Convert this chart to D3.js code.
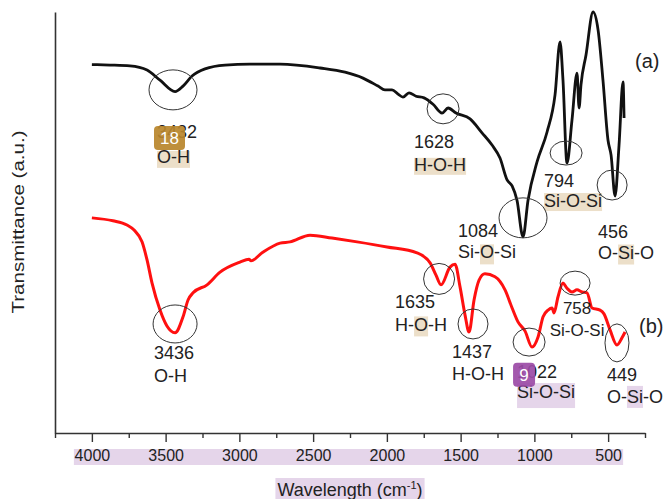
<!DOCTYPE html>
<html>
<head>
<meta charset="utf-8">
<script src="https://cdn.jsdelivr.net/npm/d3@7"></script>
<style>
  body { margin: 0; background: #fff; }
  text { font-family: "Liberation Sans", Arial, sans-serif; fill: #222; }
</style>
</head>
<body>
<svg id="chart" width="664" height="499"></svg>
<script>
// spectrum (a) - black
var wnA = [4000, 3877, 3742, 3626, 3538, 3436, 3382, 3321, 3233, 3097, 2928, 2724, 2453, 2284, 2162, 2060, 2013, 1965,
  1924, 1891, 1850, 1802, 1748, 1687, 1626, 1585, 1531, 1436, 1355, 1287, 1233, 1185, 1151, 1118, 1077, 1043, 982, 914,
  860, 826, 806, 779, 745, 711, 697, 684, 650, 602, 568, 535, 501, 480, 453, 426, 399, 392];
var tA = [87.5, 87.4, 87.2, 86.2, 83.8, 81.1, 82.4, 84.8, 86.5, 87.4, 87.6, 87.6, 86.7, 85.7, 84.3, 82.4, 81.5, 81.5,
  80.5, 79.8, 80.8, 80.0, 79.6, 78.1, 76.0, 77.2, 76.0, 74.6, 71.3, 68.4, 65.3, 60.1, 58.7, 55.3, 46.6, 55.3, 64.4, 71.5,
  80.3, 92.9, 83.8, 64.1, 74.3, 85.5, 77.2, 82.7, 89.8, 100, 95.7, 83.8, 69.6, 66.0, 56.3, 68.4, 83.4, 74.8];

// spectrum (b) - red
var wnB = [4000, 3857, 3762, 3714, 3660, 3626, 3592, 3538, 3491, 3436, 3382, 3348, 3314, 3219, 3131, 2996, 2935, 2921,
  2846, 2724, 2657, 2521, 2372, 2202, 1999, 1796, 1707, 1667, 1633, 1572, 1538, 1504, 1470, 1443, 1409, 1375, 1335, 1267,
  1199, 1151, 1111, 1063, 1016, 975, 941, 907, 880, 867, 840, 806, 779, 745, 711, 677, 643, 609, 555, 528, 487, 440, 406, 385];
var tB = [51.1, 50.4, 49.4, 48.2, 45.4, 41.1, 35.6, 29.2, 25.4, 23.8, 27.6, 31.6, 33.3, 35.2, 38.2, 40.6, 41.3, 40.9,
  42.8, 45.1, 45.4, 47.0, 46.3, 45.4, 44.2, 42.8, 40.4, 37.5, 35.2, 39.4, 40.1, 34.7, 28.0, 24.0, 31.6, 36.3, 37.8, 37.1,
  34.0, 29.7, 26.4, 24.2, 20.4, 22.8, 27.6, 29.2, 29.7, 28.5, 32.3, 35.6, 34.4, 33.5, 34.0, 33.5, 33.3, 29.7, 29.2, 28.3, 24.5, 20.9, 22.6, 24.0];

var peaksA = [3432, 1628, 1084, 794, 456];
var bondsA = ['O-H', 'H-O-H', 'Si-O-Si', 'Si-O-Si', 'O-Si-O'];
var peaksB = [3436, 1635, 1437, 1022, 758, 449];
var bondsB = ['O-H', 'H-O-H', 'H-O-H', 'Si-O-Si', 'Si-O-Si', 'O-Si-O'];

var xTicks = [4000, 3500, 3000, 2500, 2000, 1500, 1000, 500];
var xMinor = [4250, 3750, 3250, 2750, 2250, 1750, 1250, 750, 250];

var BEIGE = '#ecdfc9', LILAC = '#e5d5ea';

var svg = d3.select('#chart');
var x = d3.scaleLinear().domain([4250, 250]).range([55, 645]);
var y = d3.scaleLinear().domain([0, 100]).range([433, 12]);

var hlLayer = svg.append('g');
var plot = svg.append('g');
var ann = svg.append('g');
var badgeLayer = svg.append('g');

// axes
var gx = svg.append('g').attr('transform', 'translate(0,433)')
  .call(d3.axisBottom(x).tickValues(xTicks).tickSize(9).tickSizeOuter(0).tickPadding(8).tickFormat(d3.format('d')));
gx.select('.domain').attr('stroke', '#333').attr('stroke-width', 1.6);
gx.selectAll('.tick line').attr('stroke', '#333').attr('stroke-width', 1.4);
gx.selectAll('.tick text').attr('font-size', 16);

var gm = svg.append('g').attr('transform', 'translate(0,433)')
  .call(d3.axisBottom(x).tickValues(xMinor).tickSize(5).tickSizeOuter(0).tickFormat(''));
gm.select('.domain').remove();
gm.selectAll('.tick line').attr('stroke', '#333').attr('stroke-width', 1.4);

var gy = svg.append('g').attr('transform', 'translate(55,0)')
  .call(d3.axisLeft(y).tickValues([]).tickSizeOuter(0));
gy.select('.domain').attr('stroke', '#333').attr('stroke-width', 1.6);

// tick label band
hlLayer.append('rect')
  .attr('x', x(4000) - 18).attr('y', 449)
  .attr('width', x(500) + 15 - (x(4000) - 18)).attr('height', 16)
  .attr('fill', LILAC);

// axis titles
var xt = svg.append('text').attr('x', 350).attr('y', 496).attr('text-anchor', 'middle').attr('font-size', 18);
xt.append('tspan').text('Wavelength (cm');
xt.append('tspan').attr('dy', -7).attr('font-size', 11).text('-1');
xt.append('tspan').attr('dy', 7).text(')');
var xb = xt.node().getBBox();
hlLayer.append('rect').attr('x', xb.x - 2).attr('y', 478).attr('width', xb.width + 4).attr('height', 24).attr('fill', LILAC);

svg.append('text')
  .attr('transform', 'translate(24,222) rotate(-90)')
  .attr('text-anchor', 'middle').attr('font-size', 17)
  .attr('textLength', 183).attr('lengthAdjust', 'spacingAndGlyphs')
  .text('Transmittance (a.u.)');

// curves
var line = d3.line().x(d => x(d[0])).y(d => y(d[1])).curve(d3.curveMonotoneX);
plot.append('path').datum(d3.zip(wnA, tA)).attr('d', line)
  .attr('fill', 'none').attr('stroke', '#111').attr('stroke-width', 2.8).attr('stroke-linejoin', 'round');
plot.append('path').datum(d3.zip(wnB, tB)).attr('d', line)
  .attr('fill', 'none').attr('stroke', '#ff1010').attr('stroke-width', 3).attr('stroke-linejoin', 'round');

// annotation layout: ellipse centre in data units, sizes and text offsets in px
var layoutA = [
  {wn: 3450, t: 81.5, rx: 24, ry: 20, dx: -16, dy1: 48, dy2: 73, hl: [0, 3, BEIGE, -12, 5],
    badge: {text: '18', color: '#b8862b', dx: -3, top: -12, w: 31, h: 24}},
  {wn: 1619, t: 77.0, rx: 16, ry: 15, dx: -29, dy1: 39, dy2: 62.5, hl: [0, 5, BEIGE, -13.5, 3.5]},
  {wn: 1077, t: 51.1, rx: 24, ry: 20, dx: -65, dy1: 19.5, dy2: 40.5, hl: [3, 1, BEIGE, -14, 6]},
  {wn: 785, t: 66.5, rx: 16, ry: 12, dx: -22, dy1: 34, dy2: 54, hl: [0, 7, BEIGE, -14, 4]},
  {wn: 473, t: 58.9, rx: 15, ry: 15, dx: -14, dy1: 52.5, dy2: 73.5, hl: [2, 2, BEIGE, -14, 6]}
];
var layoutB = [
  {wn: 3436, t: 25.9, rx: 22, ry: 19, dx: -21, dy1: 35.5, dy2: 58},
  {wn: 1646, t: 36.6, rx: 15.5, ry: 15.5, dx: -44, dy1: 29.5, dy2: 52.5, hl: [2, 1, BEIGE, -15, 5]},
  {wn: 1416, t: 25.9, rx: 15, ry: 15, dx: -21, dy1: 34, dy2: 56.5},
  {wn: 1036, t: 21.6, rx: 16, ry: 14, dx: -12, dy1: 35.7, dy2: 56, hl: [0, 7, LILAC, -15, 10],
    badge: {text: '9', color: '#9b4aa6', dx: -4, top: -15, w: 22, h: 24}},
  {wn: 724, t: 35.6, rx: 15, ry: 12, dx: 2, dy1: 31, dy2: 52.5, anchor: 'middle', size: 17},
  {wn: 440, t: 21.4, rx: 12, ry: 19, dx: -10, dy1: 38, dy2: 60, hl: [2, 2, LILAC, -17, 5]}
];

function annotate(peaks, bonds, layout) {
  layout.forEach(function(L, i) {
    var cx = x(L.wn), cy = y(L.t);
    ann.append('ellipse')
      .attr('cx', cx).attr('cy', cy).attr('rx', L.rx).attr('ry', L.ry)
      .attr('fill', 'none').attr('stroke', '#333').attr('stroke-width', 1);
    var tx = cx + L.dx, fs = L.size || 18, anchor = L.anchor || 'start';
    ann.append('text').attr('x', tx).attr('y', cy + L.dy1).attr('font-size', fs)
      .attr('text-anchor', anchor).text(peaks[i]);
    var bond = ann.append('text').attr('x', tx).attr('y', cy + L.dy2).attr('font-size', fs)
      .attr('text-anchor', anchor).text(bonds[i]);
    if (L.hl) {
      var node = bond.node();
      var x0 = node.getStartPositionOfChar(L.hl[0]).x;
      var w = node.getSubStringLength(L.hl[0], L.hl[1]);
      hlLayer.append('rect').attr('x', x0).attr('y', cy + L.dy2 + L.hl[3])
        .attr('width', w).attr('height', L.hl[4] - L.hl[3]).attr('fill', L.hl[2]);
    }
    if (L.badge) {
      var b = L.badge;
      badgeLayer.append('rect').attr('x', tx + b.dx).attr('y', cy + L.dy1 + b.top)
        .attr('width', b.w).attr('height', b.h).attr('rx', 4)
        .attr('fill', b.color).attr('opacity', 0.92);
      badgeLayer.append('text').attr('x', tx + b.dx + b.w / 2).attr('y', cy + L.dy1 + b.top + b.h / 2 + 6)
        .attr('text-anchor', 'middle').attr('font-size', 17).style('fill', '#fff').text(b.text);
    }
  });
}
annotate(peaksA, bondsA, layoutA);
annotate(peaksB, bondsB, layoutB);

// series labels
svg.append('text').attr('x', 635).attr('y', 68).attr('font-size', 20).text('(a)');
svg.append('text').attr('x', 639).attr('y', 333).attr('font-size', 20).text('(b)');
</script>
</body>
</html>
